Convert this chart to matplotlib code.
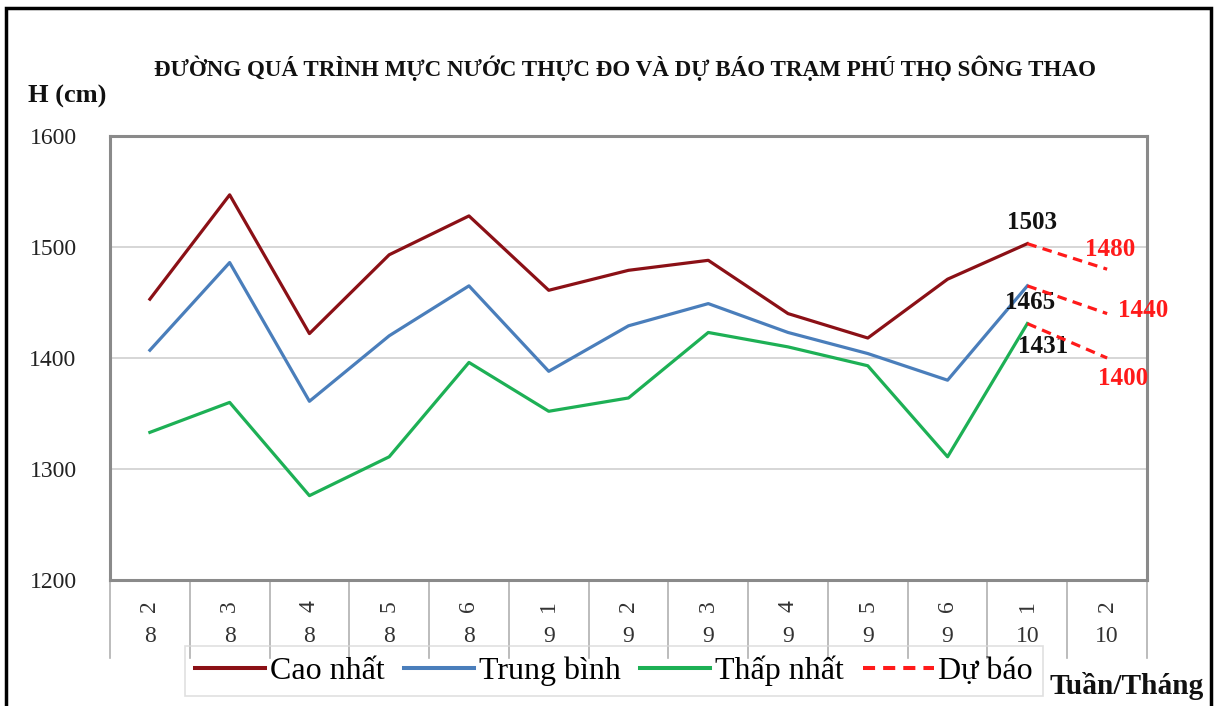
import matplotlib
matplotlib.use("Agg")
import matplotlib.pyplot as plt
from matplotlib.patches import Rectangle
from matplotlib.lines import Line2D
import matplotlib.transforms as mtransforms

plt.rcParams['font.family'] = ['Liberation Serif', 'DejaVu Serif']

# Data: weekly water levels (cm) at Phu Tho station, Thao river
weeks = ["2", "3", "4", "5", "6", "1", "2", "3", "4", "5", "6", "1", "2"]
months = ["8", "8", "8", "8", "8", "9", "9", "9", "9", "9", "9", "10", "10"]
cao_nhat = [1453, 1547, 1422, 1493, 1528, 1461, 1479, 1488, 1440, 1418, 1471, 1503]
trung_binh = [1407, 1486, 1361, 1420, 1465, 1388, 1429, 1449, 1423, 1404, 1380, 1465]
thap_nhat = [1333, 1360, 1276, 1311, 1396, 1352, 1364, 1423, 1410, 1393, 1311, 1431]
du_bao_cao = [1503, 1480]
du_bao_tb = [1465, 1440]
du_bao_thap = [1431, 1400]

W, H = 1219, 706
fig = plt.figure(figsize=(W / 100, H / 100), dpi=100)
ax = fig.add_axes([110 / W, 1 - 580 / H, (1147 - 110) / W, (580 - 136) / H])

c_high = "#8b1016"
c_mean = "#4a7ebb"
c_low = "#1db055"
c_fc = "#ff1a1a"
lw = 2.3

x = list(range(len(cao_nhat)))
ax.plot(x, cao_nhat, color=c_high, lw=lw, zorder=3)
ax.plot(x, trung_binh, color=c_mean, lw=lw, zorder=3)
ax.plot(x, thap_nhat, color=c_low, lw=lw, zorder=3)
xf = [len(cao_nhat) - 1, len(cao_nhat)]
for series in (du_bao_cao, du_bao_tb, du_bao_thap):
    ax.plot(xf, series, color=c_fc, lw=lw, ls=(0, (3, 2)), zorder=4)

ax.set_xlim(-0.5, len(weeks) - 0.5)
ax.set_ylim(1200, 1600)
ax.set_yticks([1200, 1300, 1400, 1500, 1600])
ax.set_yticklabels([str(v) for v in [1200, 1300, 1400, 1500, 1600]], fontsize=17, color="#222222")
ax.tick_params(axis='y', length=0, pad=24)
ax.set_xticks([])
ax.grid(axis='y', color="#d0d0d0", lw=1.2)
ax.set_axisbelow(True)
for s in ax.spines.values():
    s.set_color("#8a8a8a")
    s.set_linewidth(2.2)

# two-level category axis
trans = mtransforms.blended_transform_factory(ax.transData, ax.transAxes)
for i, (wk, mo) in enumerate(zip(weeks, months)):
    ax.text(i, -0.058, wk, transform=trans, rotation=90, ha='center', va='center',
            fontsize=17, color="#333333")
    ax.text(i, -0.128, mo, transform=trans, ha='center', va='center',
            fontsize=17, color="#333333")
for b in range(len(weeks) + 1):
    ax.plot([b - 0.5, b - 0.5], [0, -0.176], transform=trans, color="#b0b0b0",
            lw=1.2, clip_on=False)

# value labels
bold = dict(fontsize=18, fontweight='bold', textcoords='offset pixels')
ax.annotate(str(cao_nhat[-1]), (11, cao_nhat[-1]), xytext=(5, 21),
            ha='center', va='center', color="#111111", **bold)
ax.annotate(str(trung_binh[-1]), (11, trung_binh[-1]), xytext=(3, -17),
            ha='center', va='center', color="#111111", **bold)
ax.annotate(str(thap_nhat[-1]), (11, thap_nhat[-1]), xytext=(16, -23),
            ha='center', va='center', color="#111111", **bold)
ax.annotate(str(du_bao_cao[-1]), (12, du_bao_cao[-1]), xytext=(3, 20),
            ha='center', va='center', color=c_fc, **bold)
ax.annotate(str(du_bao_tb[-1]), (12, du_bao_tb[-1]), xytext=(36, 3),
            ha='center', va='center', color=c_fc, **bold)
ax.annotate(str(du_bao_thap[-1]), (12, du_bao_thap[-1]), xytext=(16, -21),
            ha='center', va='center', color=c_fc, **bold)

# titles
fig.text(625 / W, 1 - 68 / H, "ĐƯỜNG QUÁ TRÌNH MỰC NƯỚC THỰC ĐO VÀ DỰ BÁO TRẠM PHÚ THỌ SÔNG THAO",
         ha='center', va='center', fontsize=16.6, fontweight='bold', color="#111111")
fig.text(28 / W, 1 - 96 / H, "H (cm)", ha='left', va='center', fontsize=19,
         fontweight='bold', color="#111111")
fig.text(1049 / W, 1 - 686 / H, "Tuần/Tháng", ha='left', va='center', fontsize=21.2,
         fontweight='bold', color="#111111")

# legend
handles = [Line2D([], [], color=c_high, lw=lw + 0.6),
           Line2D([], [], color=c_mean, lw=lw + 0.6),
           Line2D([], [], color=c_low, lw=lw + 0.6),
           Line2D([], [], color=c_fc, lw=lw + 0.6, ls=(0, (3, 2)))]
leg = fig.legend(handles, ["Cao nhất", "Trung bình", "Thấp nhất", "Dự báo"],
                 loc='center', bbox_to_anchor=(614 / W, 1 - 671 / H), ncol=4,
                 fontsize=23, handlelength=2.2, handletextpad=0.15, columnspacing=0.6,
                 fancybox=False, borderpad=0.3, frameon=True, borderaxespad=0)
leg.get_frame().set_facecolor('none')
leg.get_frame().set_edgecolor("#d8d8d8")
leg.get_frame().set_linewidth(1.2)

# outer frame
fig.patches.append(Rectangle((6 / W, -0.05), (1211 - 6) / W, 1.05 - 8 / H,
                             transform=fig.transFigure, fill=False, edgecolor='black',
                             lw=2.5, figure=fig))

fig.savefig("out.png", dpi=100)
